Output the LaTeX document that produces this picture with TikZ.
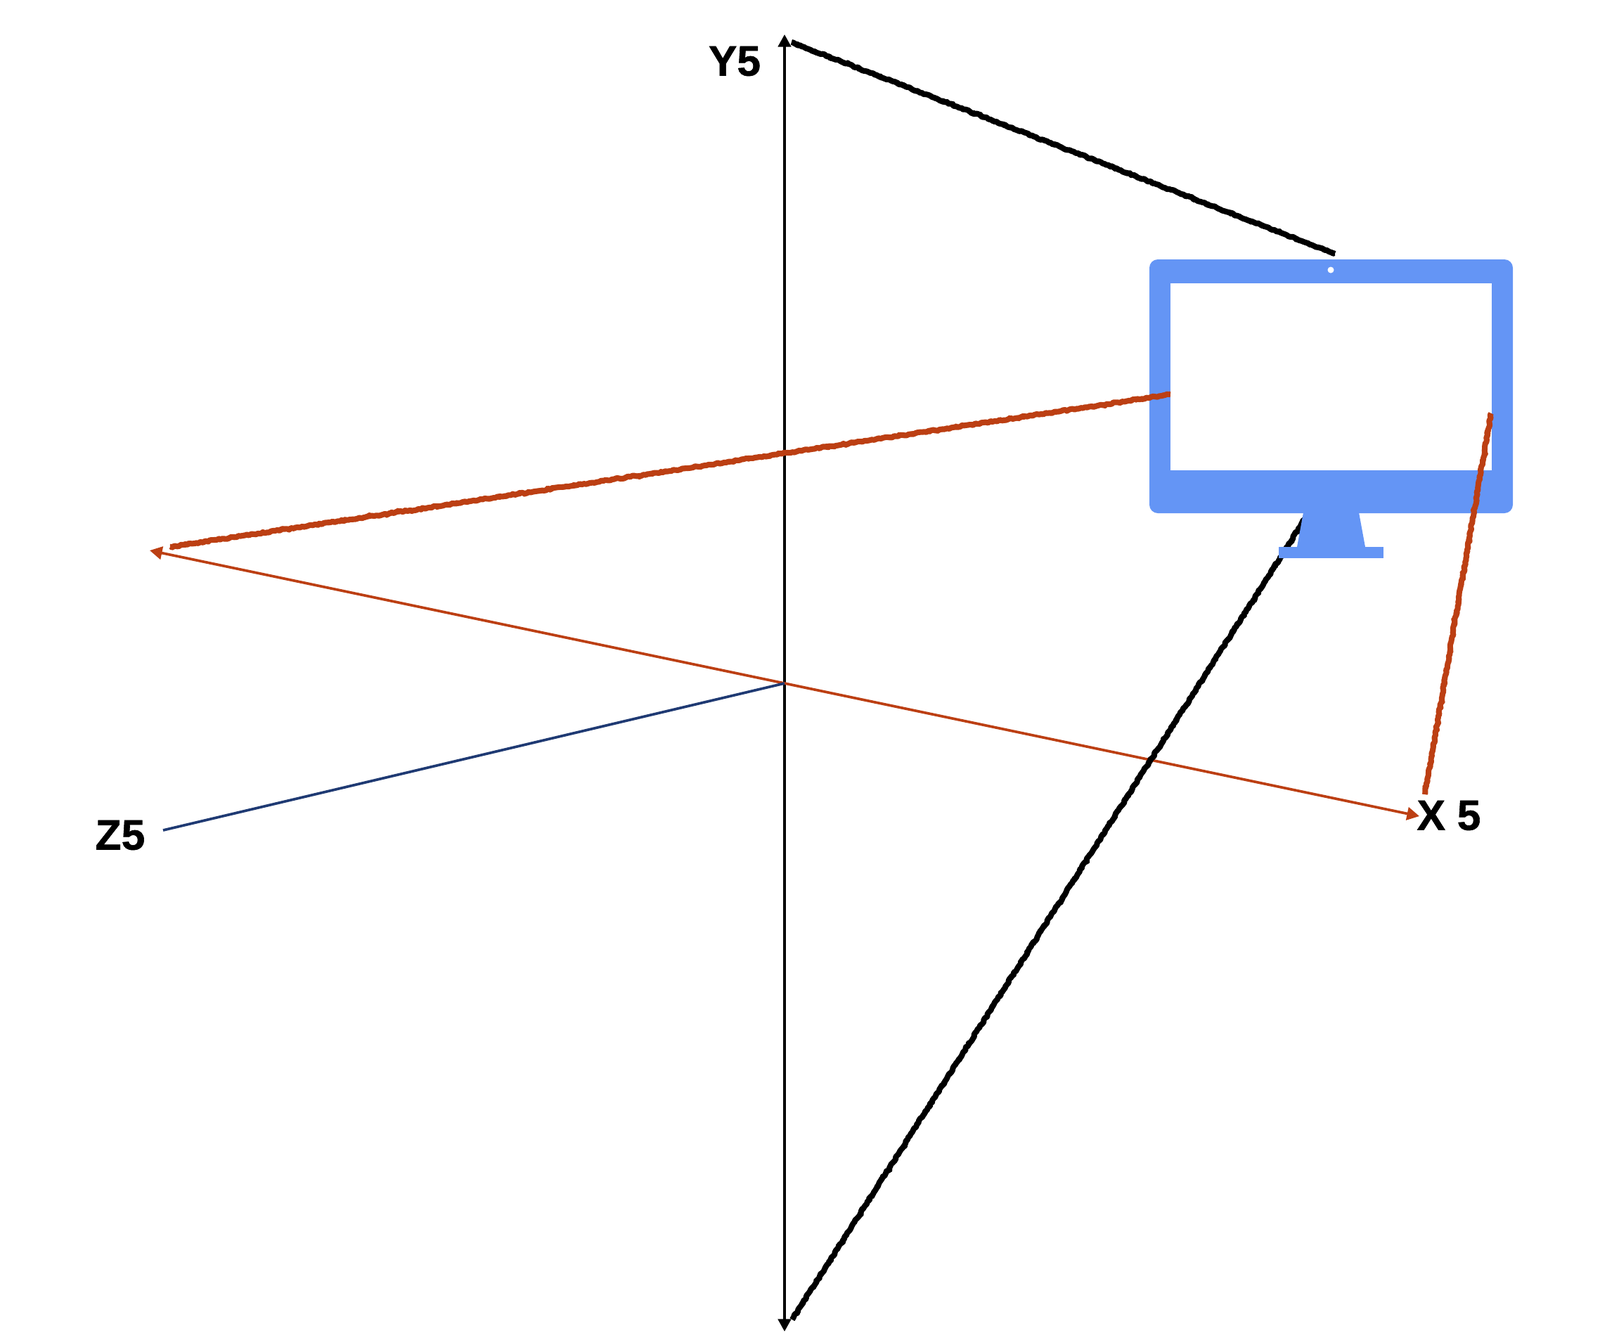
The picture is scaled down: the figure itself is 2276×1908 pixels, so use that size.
\documentclass[tikz,border=0pt]{standalone}
\usepackage{fontspec}
\setmainfont{Liberation Sans}[BoldFeatures={FakeBold=1}]
\usetikzlibrary{arrows.meta,decorations.pathmorphing}
\definecolor{monitorblue}{HTML}{6495F5}
\definecolor{axisred}{HTML}{BC3F13}
\definecolor{axisnavy}{HTML}{1F3A73}
\tikzset{
  axisline/.style={line width=1.05pt, {Triangle[length=5pt,width=5.2pt]}-{Triangle[length=5pt,width=5.2pt]}},
  roughline/.style={line width=2.3pt, line join=round, decorate, decoration={random steps,segment length=.9pt,amplitude=.3pt},
    postaction={draw, line width=1.8pt, line join=round, decorate, decoration={random steps,segment length=.7pt,amplitude=.6pt}}},
  axislabel/.style={inner sep=0pt, font=\fontsize{17.2}{20}\selectfont\bfseries},
}
\begin{document}
\begin{tikzpicture}[x=.01cm,y=-.01cm]
      \useasboundingbox (0,0) rectangle (2276,1908);

      % Axis ends
      \coordinate (origin) at (1116,972);
      \coordinate (ytop) at (1116,49);
      \coordinate (ybottom) at (1116,1894);
      \coordinate (xleft) at (213,783);
      \coordinate (xright) at (2019,1161);
      \coordinate (zend) at (232,1181);

      % Ends of the rough strokes
      \coordinate (blackA) at (1126,60);
      \coordinate (blackB) at (1899,361);
      \coordinate (blackC) at (1127,1877);
      \coordinate (blackD) at (1865,725);
      \coordinate (redA) at (242,778);
      \coordinate (redB) at (1665,561);
      \coordinate (redC) at (2121,588);
      \coordinate (redD) at (2027,1130);

      % Axes
      \draw[axisline] (ybottom) -- (ytop);
      \draw[axisline, axisred] (xleft) -- (xright);
      \draw[line width=1.05pt, axisnavy] (origin) -- (zend);

      % Labels
      \node[axislabel] (ylabel) at (1045,87) {Y5};
      \node[axislabel] (zlabel) at (171,1188) {Z5};
      \node[axislabel] (xlabel) at (2061,1160) {X 5};

      % Black strokes, the lower one runs behind the stand
      \draw[roughline, black] (blackA) -- (blackB);
      \draw[roughline, black] (blackC) -- (blackD);

      % Monitor
      \fill[monitorblue, rounded corners=.12cm] (1635,369) rectangle (2152,730);
      \fill[white] (1665,403) rectangle (2122,669);
      \fill[white] (1893,384) circle[radius=4.5];
      \fill[monitorblue] (1854,729) -- (1933,729) -- (1942,778) -- (1845,778) -- cycle;
      \fill[monitorblue] (1819,778) rectangle (1968,794);

      % Red strokes
      \draw[roughline, axisred] (redA) -- (redB);
      \draw[roughline, axisred] (redC) -- (redD);
\end{tikzpicture}
\end{document}
